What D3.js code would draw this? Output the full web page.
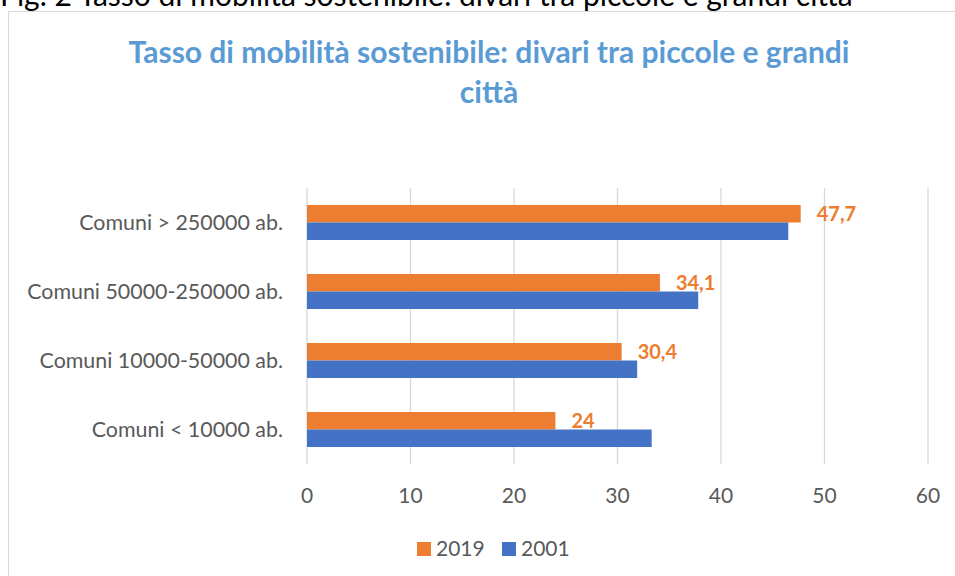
<!DOCTYPE html>
<html lang="it">
<head>
    <meta charset="UTF-8">
    <style>
        body { margin: 0; background: #fff; }
        svg text { font-family: Lato, "Open Sans", sans-serif; }
        .grid line { stroke: #d9d9d9; stroke-width: 1.3; }
        .cat text { fill: #595959; font-size: 21.4px; }
        .tick-label { fill: #595959; font-size: 21px; }
        .value { fill: #ed7d31; font-size: 20px; font-weight: bold; }
    </style>
    <script src="https://d3js.org/d3.v7.min.js"></script>
    <title>Tasso di mobilità sostenibile</title>
</head>
<body>
    <svg width="955" height="576"></svg>
    <script>

        // data
        var categories = ["Comuni > 250000 ab.", "Comuni 50000-250000 ab.", "Comuni 10000-50000 ab.", "Comuni < 10000 ab."];
        var series = ["2019", "2001"];
        var values2019 = [47.7, 34.1, 30.4, 24];
        var values2001 = [46.5, 37.8, 31.9, 33.3];
        var ticks = [0, 10, 20, 30, 40, 50, 60];

        var colors = { "2019": "#ed7d31", "2001": "#4472c4" };
        var valuesBySeries = { "2019": values2019, "2001": values2001 };

        var svg = d3.select("svg");

        // caption above the chart, cut at the top like in the page it comes from
        svg.append("text")
           .attr("x", 0)
           .attr("y", 6)
           .attr("font-size", 30)
           .attr("fill", "#000")
           .text("Fig. 2 Tasso di mobilità sostenibile: divari tra piccole e grandi città");

        // chart frame
        svg.append("rect")
           .attr("x", 8.5)
           .attr("y", 11.5)
           .attr("width", 960)
           .attr("height", 580)
           .attr("fill", "#fff")
           .attr("stroke", "#d9d9d9");

        // title
        var title = svg.append("text")
           .attr("text-anchor", "middle")
           .attr("fill", "#5b9bd5")
           .attr("font-size", 30)
           .attr("font-weight", "bold");
        title.append("tspan").attr("x", 489).attr("y", 63).text("Tasso di mobilità sostenibile: divari tra piccole e grandi");
        title.append("tspan").attr("x", 489).attr("y", 103).text("città");

        var x = d3.scaleLinear().domain([0, 60]).range([307, 928]);
        var y = d3.scaleBand().domain(categories).range([188, 464]);
        var ySub = d3.scaleBand().domain(series).range([0, y.bandwidth()]).paddingOuter(0.97);

        // gridlines
        svg.append("g").attr("class", "grid")
           .selectAll("line")
           .data(ticks)
           .join("line")
           .attr("x1", function(d) { return x(d); })
           .attr("x2", function(d) { return x(d); })
           .attr("y1", 188)
           .attr("y2", 464);

        // tick labels
        svg.append("g")
           .selectAll("text")
           .data(ticks)
           .join("text")
           .attr("class", "tick-label")
           .attr("x", function(d) { return x(d); })
           .attr("y", 496)
           .attr("dy", "0.35em")
           .attr("text-anchor", "middle")
           .text(function(d) { return d; });

        // category labels
        svg.append("g").attr("class", "cat")
           .selectAll("text")
           .data(categories)
           .join("text")
           .attr("x", 283)
           .attr("y", function(d) { return y(d) + y.bandwidth() / 2; })
           .attr("dy", "0.35em")
           .attr("text-anchor", "end")
           .text(function(d) { return d; });

        // bars
        series.forEach(function(s) {
            var rows = categories.map(function(c, i) { return { cat: c, v: valuesBySeries[s][i] }; });
            svg.append("g")
               .selectAll("rect")
               .data(rows)
               .join("rect")
               .attr("x", x(0))
               .attr("y", function(d) { return y(d.cat) + ySub(s); })
               .attr("width", function(d) { return x(d.v) - x(0); })
               .attr("height", ySub.bandwidth())
               .attr("fill", colors[s]);
        });

        // value labels, 2019 only
        svg.append("g")
           .selectAll("text")
           .data(categories)
           .join("text")
           .attr("class", "value")
           .attr("x", function(d, i) { return x(values2019[i]) + 16; })
           .attr("y", function(d) { return y(d) + ySub("2019") + ySub.bandwidth() / 2; })
           .attr("dy", "0.35em")
           .text(function(d, i) { return String(values2019[i]).replace(".", ","); });

        // legend
        var legend = svg.append("g")
           .selectAll("g")
           .data(series)
           .join("g")
           .attr("transform", function(d, i) { return "translate(" + (417 + i * 85) + ",542)"; });
        legend.append("rect")
           .attr("width", 14)
           .attr("height", 14)
           .attr("fill", function(d) { return colors[d]; });
        legend.append("text")
           .attr("class", "tick-label")
           .attr("x", 19)
           .attr("y", 7)
           .attr("dy", "0.35em")
           .text(function(d) { return d; });

    </script>
</body>
</html>
